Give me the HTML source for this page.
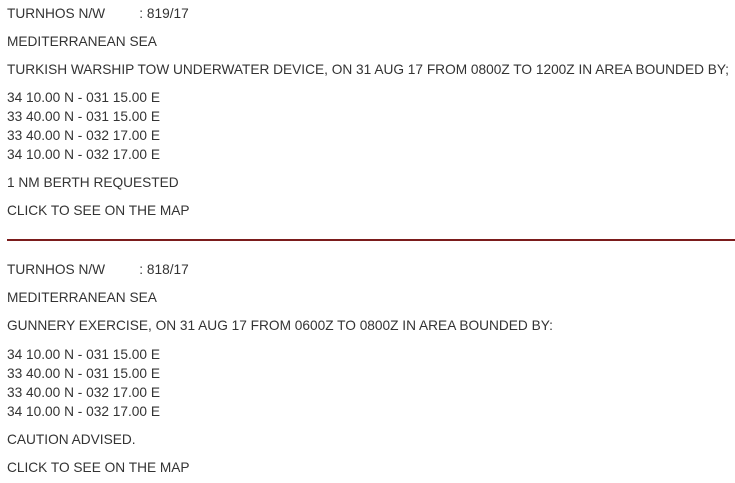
<!DOCTYPE html>
<html><head><style>
body{margin:0;background:#fff;width:735px;height:483px;position:relative;overflow:hidden;font-family:"Liberation Sans",Arial,sans-serif;font-size:13.7px;color:#333;}
div.t{position:absolute;left:7px;line-height:16px;white-space:nowrap;}
.hr{position:absolute;left:7px;width:728px;top:239px;height:2px;background:#7b1c1c;}
</style></head><body>
<div class="t" style="top:6px">TURNHOS N/W&nbsp;&nbsp;&nbsp;&nbsp;&nbsp;&nbsp;&nbsp;&nbsp;&nbsp;: 819/17</div>
<div class="t" style="top:34px">MEDITERRANEAN SEA</div>
<div class="t" style="top:62px">TURKISH WARSHIP TOW UNDERWATER DEVICE, ON 31 AUG 17 FROM 0800Z TO 1200Z IN AREA BOUNDED BY;</div>
<div class="t" style="top:90px">34 10.00 N - 031 15.00 E</div>
<div class="t" style="top:109px">33 40.00 N - 031 15.00 E</div>
<div class="t" style="top:128px">33 40.00 N - 032 17.00 E</div>
<div class="t" style="top:147px">34 10.00 N - 032 17.00 E</div>
<div class="t" style="top:175px">1 NM BERTH REQUESTED</div>
<div class="t" style="top:203px">CLICK TO SEE ON THE MAP</div>
<div class="hr"></div>
<div class="t" style="top:262px">TURNHOS N/W&nbsp;&nbsp;&nbsp;&nbsp;&nbsp;&nbsp;&nbsp;&nbsp;&nbsp;: 818/17</div>
<div class="t" style="top:290px">MEDITERRANEAN SEA</div>
<div class="t" style="top:318px">GUNNERY EXERCISE, ON 31 AUG 17 FROM 0600Z TO 0800Z IN AREA BOUNDED BY:</div>
<div class="t" style="top:347px">34 10.00 N - 031 15.00 E</div>
<div class="t" style="top:366px">33 40.00 N - 031 15.00 E</div>
<div class="t" style="top:385px">33 40.00 N - 032 17.00 E</div>
<div class="t" style="top:404px">34 10.00 N - 032 17.00 E</div>
<div class="t" style="top:432px">CAUTION ADVISED.</div>
<div class="t" style="top:460px">CLICK TO SEE ON THE MAP</div>
</body></html>
